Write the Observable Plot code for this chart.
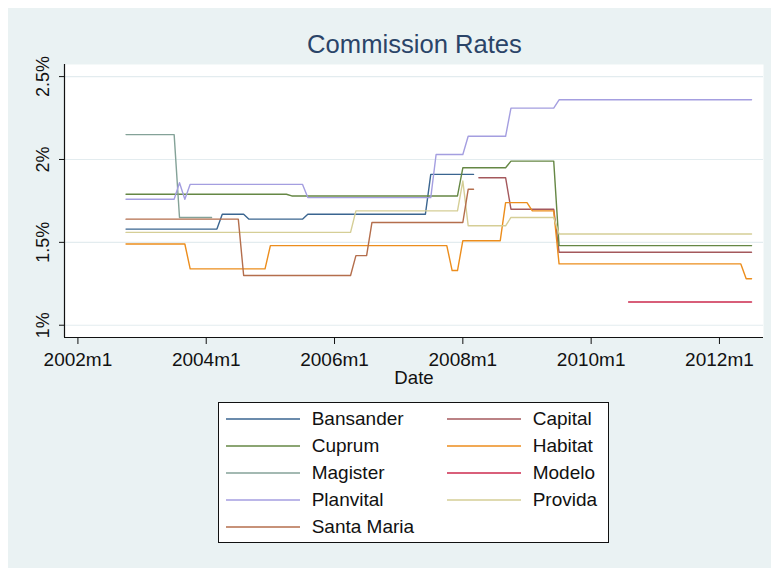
<!DOCTYPE html>
<html>
<head>
<meta charset="utf-8">
<script src="https://cdn.jsdelivr.net/npm/d3@7"></script>
<script src="https://cdn.jsdelivr.net/npm/@observablehq/plot@0.6"></script>
<style>
  html, body { margin: 0; padding: 0; background: #ffffff; }
  body { width: 771px; height: 568px; position: relative; overflow: hidden;
         font-family: "Liberation Sans", Arial, sans-serif; }
  #bg { position: absolute; left: 8px; top: 8px; width: 763px; height: 560px; background: #eaf2f3; }
  #title { position: absolute; left: 64px; width: 701px; top: 29.4px; line-height: 30px;
           font-size: 25.6px; color: #2a4468; text-align: center; white-space: nowrap; }
  #chart { position: absolute; left: 8px; top: 56px; }
  #legend { position: absolute; left: 218px; top: 402px; width: 391px; height: 141px;
            box-sizing: border-box; background: #ffffff; border: 1px solid #111; }
  .sw { position: absolute; width: 74px; height: 4px; }
  .lb { position: absolute; font-size: 19px; line-height: 22px; color: #111; white-space: nowrap; }
</style>
</head>
<body>
<div id="bg"></div>
<div id="title">Commission Rates</div>
<div id="chart"></div>
<div id="legend"></div>
<script>
// ---- data (month labels in Stata "YYYYmM" form, values in %) ----
const seriesNames  = ["Bansander","Capital","Cuprum","Habitat","Magister","Modelo","Planvital","Provida","Santa Maria"];
const seriesColors = ["#3a6590","#a4585c","#658744","#ec8d1c","#84a298","#cc2a4e","#a49ee0","#d5ce96","#b46e4c"];

const bansander = [["2002m10",1.58],["2004m3",1.58],["2004m4",1.67],["2004m8",1.67],["2004m9",1.64],
                   ["2005m7",1.64],["2005m8",1.67],["2007m6",1.67],["2007m7",1.91],["2008m3",1.91]];
const capital   = [["2008m4",1.89],["2008m9",1.89],["2008m10",1.70],["2009m6",1.70],["2009m7",1.44],["2012m7",1.44]];
const cuprum    = [["2002m10",1.79],["2005m4",1.79],["2005m5",1.78],["2007m12",1.78],["2008m1",1.95],
                   ["2008m9",1.95],["2008m10",1.99],["2009m6",1.99],["2009m7",1.48],["2012m7",1.48]];
const habitat   = [["2002m10",1.49],["2003m9",1.49],["2003m10",1.34],["2004m12",1.34],["2005m1",1.48],
                   ["2007m10",1.48],["2007m11",1.33],["2007m12",1.33],["2008m1",1.51],["2008m8",1.51],
                   ["2008m9",1.74],["2009m1",1.74],["2009m2",1.69],["2009m6",1.69],["2009m7",1.37],
                   ["2012m5",1.37],["2012m6",1.28],["2012m7",1.28]];
const magister  = [["2002m10",2.15],["2003m7",2.15],["2003m8",1.65],["2004m2",1.65]];
const modelo    = [["2010m8",1.14],["2012m7",1.14]];
const planvital = [["2002m10",1.76],["2003m7",1.76],["2003m8",1.86],["2003m9",1.76],["2003m10",1.85],
                   ["2005m7",1.85],["2005m8",1.77],["2007m7",1.77],["2007m8",2.03],["2008m1",2.03],
                   ["2008m2",2.14],["2008m9",2.14],["2008m10",2.31],["2009m6",2.31],["2009m7",2.36],["2012m7",2.36]];
const provida   = [["2002m10",1.56],["2006m4",1.56],["2006m5",1.69],["2007m12",1.69],["2008m1",1.87],
                   ["2008m2",1.60],["2008m9",1.60],["2008m10",1.65],["2009m6",1.65],["2009m7",1.55],["2012m7",1.55]];
const santaMaria= [["2002m10",1.64],["2004m7",1.64],["2004m8",1.30],["2006m4",1.30],["2006m5",1.42],
                   ["2006m7",1.42],["2006m8",1.62],["2008m1",1.62],["2008m2",1.82],["2008m3",1.82]];
const seriesData = [bansander, capital, cuprum, habitat, magister, modelo, planvital, provida, santaMaria];

const xTickLabels = ["2002m1","2004m1","2006m1","2008m1","2010m1","2012m1"];
const yTicks = [1, 1.5, 2, 2.5];

// ---- build ----
const parseMonth = s => { const [y, m] = s.split("m"); return (+y - 2002) * 12 + (+m - 1); };
const rows = [];
seriesNames.forEach((name, i) => seriesData[i].forEach(([d, v]) => rows.push({name, t: parseMonth(d), v})));
const xTicks = xTickLabels.map(parseMonth);
const xDom = [-2.51, 128.24], yDom = [0.926, 2.573];

const chart = Plot.plot({
  width: 763, height: 340,
  marginLeft: 56, marginRight: 8, marginTop: 8, marginBottom: 59,
  style: {background: "transparent", fontFamily: "'Liberation Sans', Arial, sans-serif", color: "#111", overflow: "visible"},
  x: {domain: xDom},
  y: {domain: yDom},
  color: {domain: seriesNames, range: seriesColors},
  marks: [
    Plot.frame({fill: "#ffffff", stroke: "none"}),
    Plot.ruleY(yTicks, {stroke: "#e3ecef", strokeWidth: 1.2}),
    Plot.line(rows, {x: "t", y: "v", z: "name", stroke: "name", strokeWidth: 1.4}),
    Plot.axisX({ticks: xTicks, tickFormat: t => xTickLabels[xTicks.indexOf(t)], tickSize: 7, tickPadding: 7.7,
                fontSize: 19, label: null, stroke: "#111"}),
    Plot.axisY({ticks: yTicks, tickFormat: d => d + "%", tickSize: 5, tickRotate: -90, tickPadding: 11,
                fontSize: 18, label: null, stroke: "#111"}),
    Plot.ruleX([xDom[0]], {stroke: "#111", strokeWidth: 1.2}),
    Plot.ruleY([yDom[0]], {stroke: "#111", strokeWidth: 1.2}),
    Plot.text(["Date"], {text: d => d, frameAnchor: "bottom", lineAnchor: "bottom", dy: 46.3, fontSize: 18.6, fill: "#111"})
  ]
});
document.getElementById("chart").appendChild(chart);

// ---- legend (swatches drawn as small SVG lines) ----
const NS = "http://www.w3.org/2000/svg";
const leg = document.getElementById("legend");
seriesNames.forEach((name, i) => {
  const col = i % 2, row = Math.floor(i / 2);
  const cy = 16.3 + row * 27;
  const sw = document.createElementNS(NS, "svg");
  sw.setAttribute("class", "sw");
  sw.setAttribute("width", 74); sw.setAttribute("height", 4);
  sw.style.left = (col ? 228.3 : 7) + "px";
  sw.style.top = Math.round(cy - 2) + "px";
  const ln = document.createElementNS(NS, "line");
  ln.setAttribute("x1", 0); ln.setAttribute("x2", 74);
  ln.setAttribute("y1", 2); ln.setAttribute("y2", 2);
  ln.setAttribute("stroke", seriesColors[i]); ln.setAttribute("stroke-width", 1.6);
  sw.appendChild(ln);
  leg.appendChild(sw);
  const lb = document.createElement("div");
  lb.className = "lb";
  lb.style.left = (col ? 313.7 : 92.7) + "px";
  lb.style.top = (cy - 10.9) + "px";
  lb.textContent = name;
  leg.appendChild(lb);
});
</script>
</body>
</html>
